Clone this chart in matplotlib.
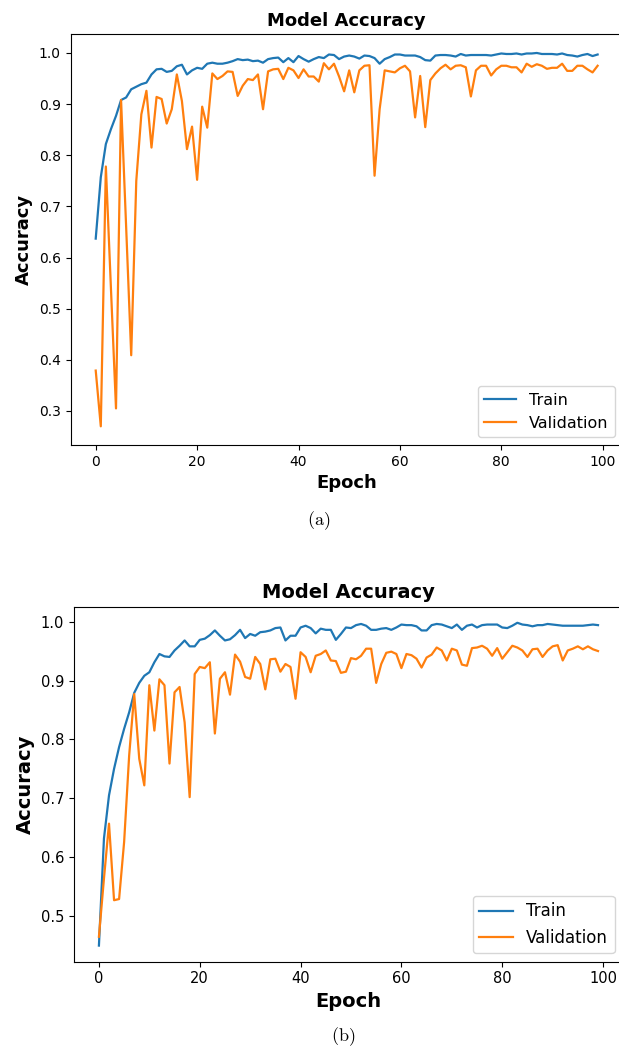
import matplotlib
matplotlib.use('Agg')
import matplotlib.pyplot as plt

# (a) first run
train_a = [0.637, 0.757, 0.822, 0.851, 0.877, 0.908, 0.913, 0.929, 0.934, 0.939,
           0.942, 0.958, 0.968, 0.969, 0.963, 0.965, 0.974, 0.977, 0.958, 0.966,
           0.971, 0.969, 0.979, 0.981, 0.979, 0.979, 0.981, 0.984, 0.988, 0.986,
           0.987, 0.984, 0.985, 0.981, 0.988, 0.990, 0.991, 0.982, 0.990, 0.982,
           0.994, 0.988, 0.983, 0.988, 0.992, 0.990, 0.997, 0.996, 0.988, 0.993,
           0.995, 0.993, 0.989, 0.995, 0.994, 0.990, 0.979, 0.988, 0.992, 0.997,
           0.997, 0.995, 0.995, 0.995, 0.992, 0.986, 0.985, 0.995, 0.996, 0.996,
           0.995, 0.993, 0.998, 0.995, 0.996, 0.996, 0.996, 0.996, 0.995, 0.997,
           0.999, 0.998, 0.998, 0.999, 0.997, 0.999, 0.999, 1.000, 0.998, 0.998,
           0.998, 0.997, 0.999, 0.996, 0.995, 0.993, 0.996, 0.998, 0.994, 0.997]
val_a = [0.379, 0.270, 0.778, 0.540, 0.305, 0.908, 0.660, 0.409, 0.750, 0.880,
         0.926, 0.815, 0.914, 0.910, 0.862, 0.890, 0.958, 0.906, 0.812, 0.856,
         0.752, 0.895, 0.854, 0.960, 0.949, 0.955, 0.964, 0.963, 0.916, 0.936,
         0.949, 0.947, 0.958, 0.890, 0.964, 0.968, 0.969, 0.949, 0.971, 0.966,
         0.951, 0.968, 0.954, 0.954, 0.944, 0.980, 0.968, 0.979, 0.954, 0.925,
         0.966, 0.923, 0.966, 0.975, 0.976, 0.760, 0.890, 0.966, 0.964, 0.962,
         0.970, 0.975, 0.964, 0.874, 0.955, 0.855, 0.947, 0.960, 0.970, 0.977,
         0.968, 0.975, 0.976, 0.972, 0.915, 0.966, 0.975, 0.975, 0.956, 0.968,
         0.975, 0.975, 0.972, 0.972, 0.962, 0.979, 0.973, 0.978, 0.975, 0.969,
         0.971, 0.971, 0.979, 0.965, 0.965, 0.975, 0.975, 0.968, 0.962, 0.975]

# (b) second run
train_b = [0.450, 0.632, 0.705, 0.750, 0.787, 0.818, 0.846, 0.879, 0.896, 0.908,
           0.914, 0.931, 0.945, 0.941, 0.940, 0.951, 0.959, 0.968, 0.958, 0.958,
           0.969, 0.971, 0.977, 0.985, 0.976, 0.968, 0.970, 0.977, 0.986, 0.972,
           0.979, 0.976, 0.982, 0.983, 0.985, 0.989, 0.990, 0.968, 0.976, 0.976,
           0.990, 0.993, 0.989, 0.980, 0.988, 0.986, 0.986, 0.969, 0.979, 0.990,
           0.989, 0.994, 0.996, 0.993, 0.986, 0.986, 0.988, 0.989, 0.986, 0.990,
           0.995, 0.994, 0.994, 0.992, 0.985, 0.985, 0.994, 0.996, 0.995, 0.992,
           0.989, 0.995, 0.986, 0.993, 0.995, 0.990, 0.994, 0.995, 0.995, 0.995,
           0.990, 0.989, 0.993, 0.998, 0.995, 0.994, 0.992, 0.994, 0.994, 0.996,
           0.995, 0.994, 0.993, 0.993, 0.993, 0.993, 0.993, 0.994, 0.995, 0.994]
val_b = [0.465, 0.564, 0.657, 0.527, 0.529, 0.626, 0.773, 0.877, 0.767, 0.722,
         0.892, 0.815, 0.902, 0.892, 0.759, 0.880, 0.889, 0.829, 0.702, 0.911,
         0.923, 0.921, 0.931, 0.810, 0.903, 0.914, 0.876, 0.944, 0.932, 0.906,
         0.903, 0.940, 0.928, 0.885, 0.936, 0.937, 0.915, 0.928, 0.923, 0.869,
         0.948, 0.940, 0.914, 0.942, 0.945, 0.951, 0.934, 0.933, 0.913, 0.915,
         0.938, 0.936, 0.942, 0.954, 0.954, 0.896, 0.928, 0.947, 0.949, 0.945,
         0.921, 0.945, 0.943, 0.937, 0.922, 0.939, 0.944, 0.956, 0.951, 0.934,
         0.954, 0.951, 0.927, 0.925, 0.955, 0.956, 0.959, 0.954, 0.942, 0.955,
         0.937, 0.948, 0.959, 0.956, 0.951, 0.940, 0.953, 0.954, 0.940, 0.951,
         0.958, 0.960, 0.934, 0.951, 0.954, 0.958, 0.953, 0.958, 0.953, 0.950]

epochs = list(range(len(train_a)))

plt.rcParams['mathtext.fontset'] = 'cm'

fig = plt.figure(figsize=(6.19, 10.49), dpi=100)

ax1 = fig.add_axes([0.1141, 0.5758, 0.8919, 0.3915])
ax2 = fig.add_axes([0.1195, 0.0832, 0.8869, 0.3385])

# font sizes differ a little between the two panels
sizes = {ax1: (13, 10, 11.5), ax2: (14, 10.5, 12)}

for ax, tr, va in [(ax1, train_a, val_a), (ax2, train_b, val_b)]:
    big, tick, leg = sizes[ax]
    ax.plot(epochs, tr, color='#1f77b4', lw=1.6, label='Train')
    ax.plot(epochs, va, color='#ff7f0e', lw=1.6, label='Validation')
    ax.set_title('Model Accuracy', fontsize=big, fontweight='bold')
    ax.set_xlabel('Epoch', fontsize=big, fontweight='bold')
    ax.set_ylabel('Accuracy', fontsize=big, fontweight='bold')
    ax.tick_params(labelsize=tick)
    ax.set_xticks([0, 20, 40, 60, 80, 100])
    ax.set_xlim(-4.95, 103.95)
    ax.legend(loc='lower right', fontsize=leg)

fig.text(0.515, 1 - 521 / 1049, r'$\mathrm{(a)}$', ha='center', va='center', fontsize=13)
fig.text(0.554, 1 - 1037 / 1049, r'$\mathrm{(b)}$', ha='center', va='center', fontsize=13)

fig.savefig('out.png', dpi=100)
